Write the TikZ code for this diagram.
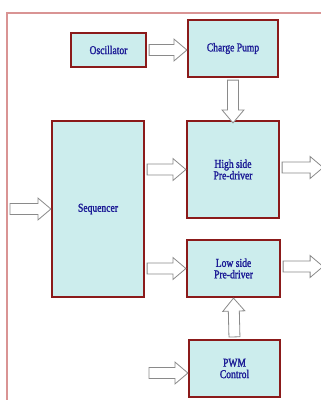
\documentclass[tikz,border=0pt]{standalone}
\usepackage{fontspec}
\setmainfont{Liberation Serif}[FakeStretch=0.8,FakeBold=1.6]
\usetikzlibrary{calc}
\definecolor{blkFill}{HTML}{CCEDED}
\definecolor{blkEdge}{HTML}{8B1A1A}
\definecolor{blkText}{HTML}{1C1C96}
\definecolor{frameRed}{HTML}{D99494}
\definecolor{arrGray}{HTML}{8A8A8A}
\tikzset{
  blk/.style={draw=blkEdge, fill=blkFill, line width=2.2pt, inner sep=0pt, align=center, text=blkText, font=\fontsize{12}{11.5}\selectfont},
  blk arrow/.style={draw=arrGray, fill=white, line width=0.8pt, line join=miter,
    to path={let \p1=($(\tikztostart)!2pt!(\tikztotarget)$), \p2=($(\tikztotarget)!13pt!(\tikztostart)$) in
      ($(\p1)!5.5pt!90:(\tikztotarget)$) -- ($(\p2)!5.5pt!90:(\tikztotarget)$) -- ($(\p2)!11pt!90:(\tikztotarget)$)
      -- (\tikztotarget) -- ($(\p2)!11pt!-90:(\tikztotarget)$) -- ($(\p2)!5.5pt!-90:(\tikztotarget)$)
      -- ($(\p1)!5.5pt!-90:(\tikztotarget)$) -- cycle}},
}

\begin{document}
\begin{tikzpicture}[x=1pt,y=-1pt]
  \useasboundingbox (0,0) rectangle (321,400);
  \clip (0,0) rectangle (321,400);
  % outer frame
  \draw[frameRed, line width=1.2pt] (7,410) -- (7,13) -- (330,13);
  % blocks
  \node[blk, minimum width=75, minimum height=34] (osc) at (108.5,50) {Oscillator};
  \node[blk, minimum width=90, minimum height=57] (cp) at (233,48.5) {Charge Pump};
  \node[blk, minimum width=92, minimum height=176] (seq) at (98,209) {Sequencer};
  \node[blk, minimum width=92, minimum height=97] (hs) at (233,169.5) {High side\\Pre-driver};
  \node[blk, minimum width=93, minimum height=57] (ls) at (233.5,268.5) {Low side\\Pre-driver};
  \node[blk, minimum width=91, minimum height=57] (pwm) at (234.5,368.5) {PWM\\Control};
  % free ends
  \coordinate (seq-in) at (8,209);
  \coordinate (hs-out) at ($(hs.east)+(43,-2)$);
  \coordinate (ls-out) at ($(ls.east)+(42,-2)$);
  \coordinate (pwm-in) at (147,373);
  % block arrows
  \draw[blk arrow] (osc.east) to (osc.east -| cp.west);
  \draw[blk arrow] (cp.south) to ([yshift=-3pt]hs.north);
  \draw[blk arrow] (seq-in) to (seq.west);
  \draw[blk arrow] (seq.east |- hs.west) to (hs.west);
  \draw[blk arrow] (seq.east |- ls.west) to (ls.west);
  \draw[blk arrow] (hs.east |- hs-out) to (hs-out);
  \draw[blk arrow] (ls.east |- ls-out) to (ls-out);
  \draw[blk arrow] (pwm.north) to (ls.south);
  \draw[blk arrow] (pwm-in) to (pwm-in -| pwm.west);
\end{tikzpicture}
\end{document}
